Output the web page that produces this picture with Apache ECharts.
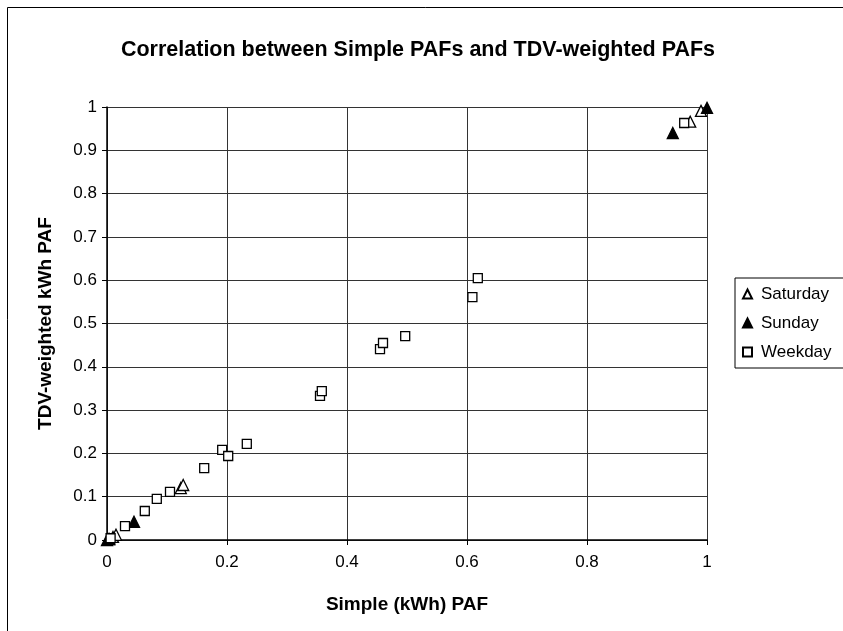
<!DOCTYPE html>
<html>
<head>
<meta charset="utf-8">
<script src="https://cdn.jsdelivr.net/npm/echarts@6/dist/echarts.min.js"></script>
<style>
  html, body { margin: 0; padding: 0; background: #fff; }
  #chart { width: 843px; height: 631px; }
</style>
</head>
<body>
<div id="chart"></div>
<script>
// values: [simple PAF, TDV-weighted PAF]
const saturday = [[0.003, 0.002], [0.01, 0.007], [0.015, 0.012], [0.123, 0.12], [0.127, 0.127], [0.972, 0.966], [0.99, 0.991]]
const sunday = [[0, 0], [0.004, 0.002], [0.045, 0.042], [0.943, 0.94], [1.0, 0.998]]
const weekday = [
  [0.006, 0.004], [0.03, 0.032], [0.063, 0.067], [0.083, 0.095], [0.105, 0.111],
  [0.162, 0.166], [0.192, 0.208], [0.202, 0.194], [0.233, 0.222], [0.355, 0.333],
  [0.358, 0.344], [0.455, 0.441], [0.46, 0.455], [0.497, 0.471], [0.609, 0.561],
  [0.618, 0.605], [0.962, 0.963]
]

const font = 'Liberation Sans, Arial, sans-serif'
const chart = echarts.init(document.getElementById('chart'))

const series = (name, data, symbol, fill, size) => ({
  name,
  type: 'scatter',
  data,
  symbol,
  symbolSize: size,
  itemStyle: { color: fill, borderColor: '#000', borderWidth: 1.3, opacity: 1 }
})

const option = {
  backgroundColor: '#fff',
  animation: false,
  title: {
    text: 'Correlation between Simple PAFs and TDV-weighted PAFs',
    left: 413,
    textAlign: 'center',
    top: 34,
    textStyle: { fontFamily: font, fontSize: 21.5, fontWeight: 'bold', color: '#000' }
  },
  graphic: [{
    type: 'rect',
    shape: { x: 7.5, y: 7.5, width: 900, height: 700 },
    style: { fill: 'none', stroke: '#000', lineWidth: 1 },
    z: -1
  }],
  legend: {
    orient: 'vertical',
    left: 735,
    top: 278,
    padding: [6, 30, 6, 7],
    borderColor: '#000',
    borderWidth: 1,
    itemWidth: 9,
    itemHeight: 9,
    itemGap: 9,
    textStyle: { fontFamily: font, fontSize: 17, color: '#000', lineHeight: 20, padding: [0, 0, 0, 4] },
    data: ['Saturday', 'Sunday', 'Weekday']
  },
  grid: { left: 107, right: 136, top: 107, bottom: 91 },
  xAxis: {
    type: 'value',
    min: 0,
    max: 1,
    interval: 0.2,
    name: 'Simple (kWh) PAF',
    nameLocation: 'middle',
    nameGap: 55,
    nameTextStyle: { fontFamily: font, fontSize: 19, fontWeight: 'bold', color: '#000' },
    axisLine: { lineStyle: { color: '#000', width: 1.5 } },
    axisTick: { show: true, inside: false, length: 5, lineStyle: { color: '#000' } },
    axisLabel: { fontFamily: font, fontSize: 17, color: '#000', margin: 14 },
    splitLine: { show: true, lineStyle: { color: '#333', width: 1 } }
  },
  yAxis: {
    type: 'value',
    min: 0,
    max: 1,
    interval: 0.1,
    name: 'TDV-weighted kWh PAF',
    nameLocation: 'middle',
    nameGap: 52,
    nameTextStyle: { fontFamily: font, fontSize: 19, fontWeight: 'bold', color: '#000' },
    axisLine: { show: true, lineStyle: { color: '#000', width: 1.5 } },
    axisTick: { show: true, length: 5, lineStyle: { color: '#000' } },
    axisLabel: { fontFamily: font, fontSize: 17, color: '#000', margin: 10 },
    splitLine: { show: true, lineStyle: { color: '#333', width: 1 } }
  },
  series: [
    series('Saturday', saturday, 'triangle', '#fff', 11),
    series('Sunday', sunday, 'triangle', '#000', 11),
    series('Weekday', weekday, 'rect', '#fff', 9)
  ]
}

chart.setOption(option)
</script>
</body>
</html>
